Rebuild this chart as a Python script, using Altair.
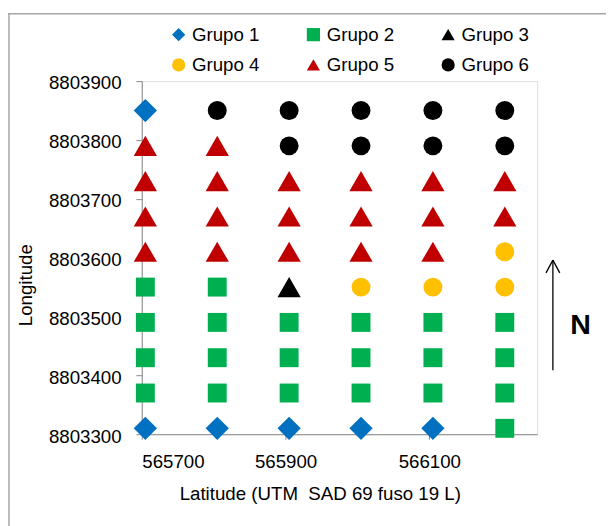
import altair as alt
import pandas as pd

# Column positions (Latitude, UTM) and row positions (Longitude)
lat_values = [565705, 565805, 565905, 566005, 566105, 566205]
lon_values = [8803310, 8803370, 8803430, 8803490, 8803550,
              8803610, 8803670, 8803730, 8803790, 8803850]

# Group of each point, listed per column from bottom row to top row
col_groups = [
    [1, 2, 2, 2, 2, 5, 5, 5, 5, 1],
    [1, 2, 2, 2, 2, 5, 5, 5, 5, 6],
    [1, 2, 2, 2, 3, 5, 5, 5, 6, 6],
    [1, 2, 2, 2, 4, 5, 5, 5, 6, 6],
    [1, 2, 2, 2, 4, 5, 5, 5, 6, 6],
    [2, 2, 2, 2, 4, 4, 5, 5, 6, 6],
]

group_names = ["Grupo 1", "Grupo 2", "Grupo 3", "Grupo 4", "Grupo 5", "Grupo 6"]
group_colors = ["#0070C0", "#00B050", "#000000", "#FFC000", "#C00000", "#000000"]
group_shapes = ["diamond", "square", "triangle-up", "circle", "triangle-up", "circle"]
pointed_groups = ["Grupo 1", "Grupo 3", "Grupo 5"]   # diamonds and triangles

x_ticks = [565700, 565900, 566100]
y_ticks = [8803300, 8803400, 8803500, 8803600, 8803700, 8803800, 8803900]

rows = []
for xi, col in zip(lat_values, col_groups):
    for yi, g in zip(lon_values, col):
        rows.append({"lat": xi, "lon": yi, "grupo": group_names[g - 1]})
df = pd.DataFrame(rows)
df_pointed = df[df["grupo"].isin(pointed_groups)]
df_round = df[~df["grupo"].isin(pointed_groups)]

FONT = "Liberation Sans"
AXIS_GREY = "#868686"
W, H = 402, 359

x_enc = alt.X("lat:Q",
              scale=alt.Scale(domain=[565700, 566250], nice=False, zero=False),
              axis=alt.Axis(values=x_ticks, format="d", grid=False,
                            title="Latitude (UTM\u00a0\u00a0SAD 69 fuso 19 L)",
                            titleX=181, titleY=66, titleAlign="center",
                            titleBaseline="alphabetic", titleFontWeight="normal",
                            tickSize=5, labelPadding=14,
                            labelFontSize=19, titleFontSize=19))
y_enc = alt.Y("lon:Q",
              scale=alt.Scale(domain=[8803300, 8803900], nice=False, zero=False),
              axis=alt.Axis(values=y_ticks, format="d", grid=False,
                            title="Longitude", titleFontWeight="normal",
                            titleX=-112, titleY=207, titleAngle=270,
                            titleAlign="center", titleBaseline="alphabetic",
                            tickSize=6, labelPadding=15, labelOffset=2,
                            labelFontSize=19, titleFontSize=19))
color_enc = alt.Color("grupo:N",
                      scale=alt.Scale(domain=group_names, range=group_colors),
                      legend=alt.Legend(title=None, orient="none", legendX=28,
                                        legendY=-57, columns=3, direction="horizontal",
                                        columnPadding=45,
                                        rowPadding=11, symbolSize=180,
                                        labelOffset=4, labelFontSize=19,
                                        symbolStrokeWidth=0, symbolOpacity=1))
shape_enc = alt.Shape("grupo:N",
                      scale=alt.Scale(domain=group_names, range=group_shapes))

pts_pointed = alt.Chart(df_pointed).mark_point(
    filled=True, opacity=1, strokeWidth=0, size=560
).encode(x=x_enc, y=y_enc, color=color_enc, shape=shape_enc)
pts_round = alt.Chart(df_round).mark_point(
    filled=True, opacity=1, strokeWidth=0, size=370
).encode(x=x_enc, y=y_enc, color=color_enc, shape=shape_enc)

border_color = "#A6A6A6"
top_border = alt.Chart().mark_rule(color=border_color, strokeWidth=1.5).encode(
    x=alt.value(-136), x2=alt.value(480), y=alt.value(-68.5))
left_border = alt.Chart().mark_rule(color=border_color, strokeWidth=1.5).encode(
    x=alt.value(-135), y=alt.value(-69), y2=alt.value(460))

arrow_shaft = alt.Chart().mark_rule(color="black", strokeWidth=1.3).encode(
    x=alt.value(418), y=alt.value(182), y2=alt.value(294))
arrow_left = alt.Chart().mark_rule(color="black", strokeWidth=1.3).encode(
    x=alt.value(411), x2=alt.value(418), y=alt.value(195), y2=alt.value(182))
arrow_right = alt.Chart().mark_rule(color="black", strokeWidth=1.3).encode(
    x=alt.value(425), x2=alt.value(418), y=alt.value(195), y2=alt.value(182))
north = alt.Chart().mark_text(text="N", font=FONT, fontSize=29, fontWeight="bold",
                              baseline="middle", align="center", color="black").encode(
    x=alt.value(446), y=alt.value(248))

chart = alt.layer(
    top_border, left_border, pts_round, pts_pointed,
    arrow_shaft, arrow_left, arrow_right, north
).properties(
    width=W, height=H,
    autosize=alt.AutoSizeParams(type="none"),
    padding={"left": 136, "top": 70, "right": 70, "bottom": 90},
).configure_view(stroke=None).configure_axis(
    domainColor=AXIS_GREY, tickColor=AXIS_GREY, domainWidth=1.5, tickWidth=1.5,
    labelFont=FONT, titleFont=FONT, labelColor="black", titleColor="black",
    titleFontWeight="normal",
).configure_legend(
    labelFont=FONT, labelColor="black", padding=0,
).configure(background="white")

chart.save("out.html", embed_options={"renderer": "svg", "actions": False})
